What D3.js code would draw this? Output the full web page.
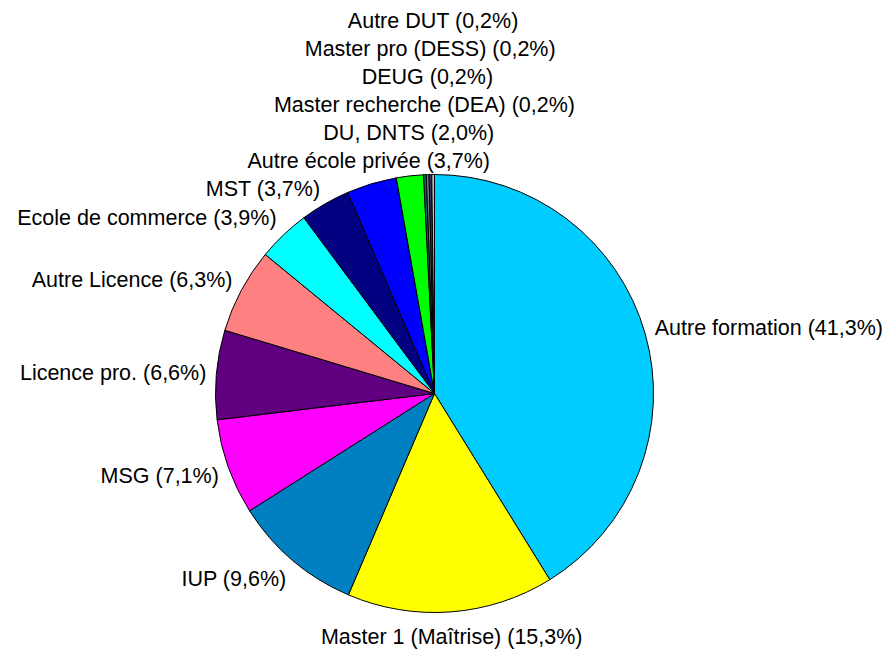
<!DOCTYPE html>
<html>
<head>
<meta charset="utf-8">
<script src="https://cdn.jsdelivr.net/npm/d3@7"></script>
<style>
    body { margin: 0; background: #fff; }
    text { font-family: "Liberation Sans", Arial, sans-serif; font-size: 21.5px; fill: #000; }
</style>
</head>
<body>
<div id="chart"></div>
<script>
// data, clockwise from 12 o'clock
const categories = ["Autre formation", "Master 1 (Maîtrise)", "IUP", "MSG", "Licence pro.",
    "Autre Licence", "Ecole de commerce", "MST", "Autre école privée", "DU, DNTS",
    "Master recherche (DEA)", "DEUG", "Master pro (DESS)", "Autre DUT"];
const shares = [41.3, 15.3, 9.6, 7.1, 6.6, 6.3, 3.9, 3.7, 3.7, 2.0, 0.2, 0.2, 0.2, 0.2];
const sliceColors = ["#00ccff", "#ffff00", "#0080c0", "#ff00ff", "#600080", "#ff8080", "#00ffff",
    "#000080", "#0000ff", "#00ff00", "#006666", "#808080", "#333366", "#c0c0c0"];

function plotPie() {
    let width = 888, height = 650,
        cx = 434.5, cy = 393.5,
        radius = 219,
        labelR = radius + 10,
        lineH = 28;

    let data = categories.map((c, i) => ({ name: c, value: shares[i], color: sliceColors[i] }));

    let svg = d3.select("#chart")
        .append("svg")
        .attr("width", width)
        .attr("height", height);

    let g = svg.append("g")
        .attr("transform", "translate(" + cx + "," + cy + ")");

    let pie = d3.pie().sort(null).value(d => d.value);
    let arcs = pie(data);
    let arc = d3.arc().innerRadius(0).outerRadius(radius);

    g.selectAll("path")
        .data(arcs)
        .enter()
        .append("path")
        .attr("d", arc)
        .attr("fill", d => d.data.color)
        .attr("stroke", "#000")
        .attr("stroke-width", 1)
        .attr("stroke-linejoin", "round");

    // labels
    let fmt = v => v.toFixed(1).replace(".", ",");
    let labels = g.selectAll("text")
        .data(arcs)
        .enter()
        .append("text")
        .attr("dy", "0.36em")
        .text(d => `${d.data.name} (${fmt(d.data.value)}%)`);

    labels.each(function (d) {
        let a = (d.startAngle + d.endAngle) / 2,
            s = Math.sin(a), c = Math.cos(a);
        let w = this.getComputedTextLength();
        let ax = labelR * s, ay = -labelR * c;
        d.w = w;
        d.fx = Math.abs(s) < 0.35 ? 0 : Math.sign(s);
        d.left = ax - w / 2 * (1 - d.fx);
        d.mid = ay - lineH / 2 * c;
    });

    // keep labels from overlapping: centred ones stack outward, side ones slide toward the middle
    function overlap(p, q) {
        return p.left < q.left + q.w && q.left < p.left + p.w && Math.abs(p.mid - q.mid) < lineH - 0.5;
    }
    let placed = [];
    let order = arcs.filter(d => d.fx === 0).concat(arcs.filter(d => d.fx !== 0));
    order.forEach(d => {
        let up = d.mid < 0;
        for (let k = 0; k < 30; k++) {
            let hit = placed.find(p => overlap(p, d));
            if (!hit) break;
            if (d.fx === 0) {
                d.mid = up ? Math.min(d.mid, hit.mid - lineH) : Math.max(d.mid, hit.mid + lineH);
            } else {
                d.mid = up ? Math.max(d.mid, hit.mid + lineH) : Math.min(d.mid, hit.mid - lineH);
            }
        }
        placed.push(d);
    });

    labels
        .attr("x", d => d.left)
        .attr("y", d => d.mid);
}

plotPie();
</script>
</body>
</html>
